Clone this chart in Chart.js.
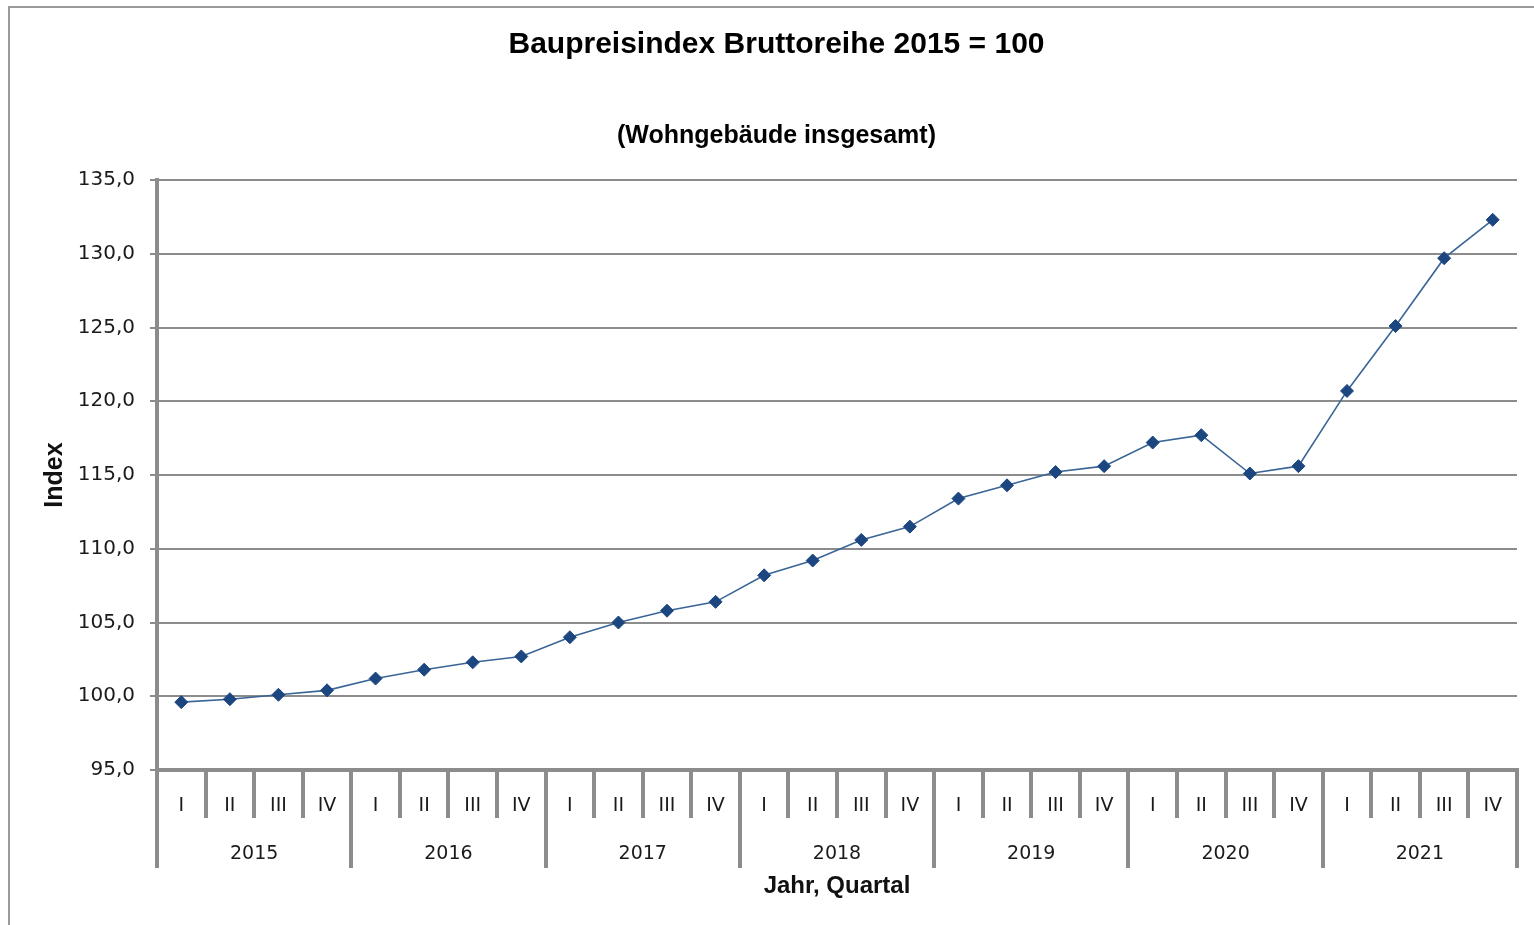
<!DOCTYPE html>
<html>
<head>
<meta charset="utf-8">
<script src="https://cdn.jsdelivr.net/npm/chart.js@4/dist/chart.umd.min.js"></script>
<style>
  html, body { margin: 0; padding: 0; background: #fff; overflow: hidden; }
  #frame { position: absolute; left: 8px; top: 6px; width: 1560px; height: 960px; border: 2px solid #9a9a9a; box-sizing: border-box; }
  #c { position: absolute; left: 0; top: 0; }
</style>
</head>
<body>
<div id="frame"></div>
<canvas id="c" width="1534" height="925"></canvas>
<script>
const quarters = ['I','II','III','IV','I','II','III','IV','I','II','III','IV','I','II','III','IV','I','II','III','IV','I','II','III','IV','I','II','III','IV'];
const years = ['2015','2016','2017','2018','2019','2020','2021'];
const indexValues = [99.6, 99.8, 100.1, 100.4, 101.2, 101.8, 102.3, 102.7, 104.0, 105.0, 105.8, 106.4, 108.2, 109.2, 110.6, 111.5, 113.4, 114.3, 115.2, 115.6, 117.2, 117.7, 115.1, 115.6, 120.7, 125.1, 129.7, 132.3];
const yMin = 95, yMax = 135, yStep = 5;

const GRAY = '#8c8c8c';
const XFONT = { family: 'DejaVu Sans', size: 19 };
const YFONT = { family: 'DejaVu Sans', size: 20 };

new Chart(document.getElementById('c'), {
  type: 'line',
  data: {
    labels: quarters,
    datasets: [{
      data: indexValues,
      borderColor: '#3a6596',
      borderWidth: 1.6,
      pointStyle: 'rectRot',
      pointRadius: 6.5,
      pointBackgroundColor: '#1c4680',
      pointBorderColor: '#1c4680',
      pointBorderWidth: 1,
      tension: 0,
      fill: false
    }]
  },
  options: {
    responsive: false,
    animation: false,
    layout: { padding: { left: 36, right: 17, top: 0, bottom: 20.6 } },
    plugins: {
      legend: { display: false },
      tooltip: { enabled: false },
      title: {
        display: true,
        text: 'Baupreisindex Bruttoreihe 2015 = 100',
        color: '#000',
        font: { family: 'Liberation Sans', size: 30, weight: 'bold' },
        padding: { top: 27, bottom: 58 }
      },
      subtitle: {
        display: true,
        text: '(Wohngebäude insgesamt)',
        color: '#000',
        font: { family: 'Liberation Sans', size: 25, weight: 'bold' },
        padding: { top: 0, bottom: 29 }
      }
    },
    scales: {
      x: {
        type: 'category',
        position: 'bottom',
        weight: 0,
        offset: true,
        grid: { display: true, offset: true, drawOnChartArea: false, drawTicks: true, tickLength: 48, color: GRAY, lineWidth: 4 },
        border: { display: true, color: GRAY, width: 4 },
        ticks: { autoSkip: false, maxRotation: 0, minRotation: 0, padding: -23.6, color: '#1a1a1a', font: XFONT },
        afterFit: (s) => { s.height = 48; }
      },
      xYear: {
        type: 'category',
        position: 'bottom',
        weight: 1,
        labels: years,
        offset: true,
        grid: { display: true, offset: true, drawOnChartArea: false, drawTicks: true, tickLength: 50, color: GRAY, lineWidth: 4 },
        border: { display: false },
        ticks: { autoSkip: false, maxRotation: 0, minRotation: 0, padding: -25.4, color: '#1a1a1a', font: XFONT },
        title: {
          display: true,
          text: 'Jahr, Quartal',
          color: '#111',
          font: { family: 'Liberation Sans', size: 24, weight: 'bold' },
          padding: { top: 4, bottom: 4 }
        },
        afterFit: (s) => { s.height = 86.4; }
      },
      y: {
        type: 'linear',
        position: 'left',
        min: yMin,
        max: yMax,
        ticks: {
          stepSize: yStep,
          padding: 15,
          color: '#1a1a1a',
          font: YFONT,
          callback: (v) => v.toFixed(1).replace('.', ',')
        },
        grid: { color: GRAY, lineWidth: 2, tickLength: 7, drawTicks: true },
        border: { display: true, color: GRAY, width: 4 },
        title: {
          display: true,
          text: 'Index',
          color: '#111',
          font: { family: 'Liberation Sans', size: 25, weight: 'bold' },
          padding: { top: 4, bottom: 4 }
        },
        afterFit: (s) => { s.width = 121; }
      }
    }
  }
});
</script>
</body>
</html>
